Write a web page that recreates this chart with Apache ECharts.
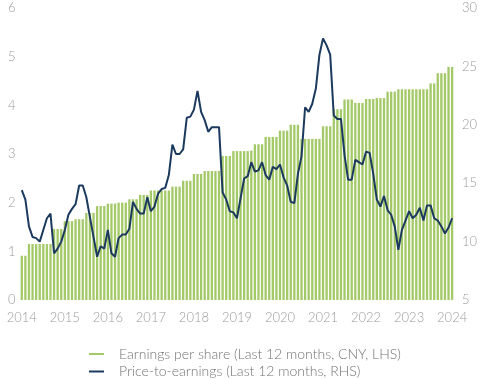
<!DOCTYPE html>
<html>
<head>
<meta charset="utf-8">
<script src="https://cdn.jsdelivr.net/npm/echarts@6/dist/echarts.min.js"></script>
<style>
html,body{margin:0;padding:0;background:#fff;}
#chart{width:480px;height:379px;}
</style>
</head>
<body>
<div id="chart"></div>
<script>
// Year tick labels (one label every 12 monthly categories)
const years = ['2014','2015','2016','2017','2018','2019','2020','2021','2022','2023','2024'];
const months = ['01','02','03','04','05','06','07','08','09','10','11','12'];

// EPS, last 12 months, CNY (left axis) - monthly, Jan 2014 .. Jan 2024
const eps = [
  0.91,0.91,
  1.15,1.15,1.15,1.15,1.15,1.15,1.15,
  1.46,1.46,1.46,
  1.62,1.62,1.62,
  1.66,1.66,1.66,
  1.79,1.79,1.79,
  1.93,1.93,1.93,
  1.98,1.98,1.98,
  2.00,2.00,2.00,
  2.07,2.07,2.07,
  2.16,2.16,2.16,
  2.25,2.25,2.25,2.25,2.25,2.25,
  2.33,2.33,2.33,
  2.45,2.45,2.45,
  2.59,2.59,2.59,
  2.65,2.65,2.65,2.65,2.65,
  2.96,2.96,2.96,
  3.06,3.06,3.06,3.06,3.06,3.07,
  3.20,3.20,3.20,
  3.35,3.35,3.35,3.35,
  3.48,3.48,3.48,
  3.60,3.60,3.60,
  3.31,3.31,3.31,3.31,3.31,3.31,
  3.57,3.57,3.57,
  3.92,3.92,3.92,
  4.12,4.12,4.12,
  4.05,4.05,4.05,
  4.13,4.13,4.13,
  4.15,4.15,4.15,
  4.28,4.28,4.28,
  4.33,4.33,4.33,4.33,4.33,4.33,4.33,4.33,4.33,
  4.45,4.45,
  4.66,4.66,4.66,
  4.79,4.79
];

// Price-to-earnings, last 12 months (right axis)
const pe = [
  14.4,13.6,11.3,10.4,10.3,10.0,11.0,12.0,12.4,9.0,9.4,10.0,
  11.0,12.3,12.8,13.2,14.8,14.8,13.8,12.1,10.4,8.7,9.6,9.4,
  11.0,9.0,8.7,10.3,10.6,10.6,11.1,13.4,12.8,12.4,12.4,13.8,
  12.6,13.0,14.1,14.5,14.6,15.7,18.3,17.5,17.5,17.9,20.6,20.7,
  21.3,22.9,21.1,20.4,19.4,19.8,19.8,19.8,14.2,13.6,12.6,12.5,
  12.0,13.7,15.4,15.6,16.8,16.0,16.1,16.8,15.7,15.3,16.4,16.2,
  16.6,15.5,14.8,13.4,13.3,15.8,17.3,21.5,21.1,21.8,23.1,26.0,
  27.4,26.8,26.0,20.8,20.5,20.5,17.4,15.3,15.3,17.0,16.8,16.6,
  17.7,17.6,15.8,13.6,13.0,13.9,12.7,12.3,11.3,9.3,11.0,11.8,
  12.6,12.0,12.3,12.9,11.8,13.1,13.1,12.0,11.8,11.3,10.7,11.2,
  12.0
];

const seriesNames = [
  'Earnings per share (Last 12 months, CNY, LHS)',
  'Price-to-earnings (Last 12 months, RHS)'
];

// monthly categories Jan 2014 .. Jan 2024
const categories = [];
years.forEach(function (y, k) {
  months.forEach(function (m) {
    if (k < years.length - 1 || m === '01') categories.push(y + '-' + m);
  });
});

const FONT = 'Lato';
const axisLabelColor = '#9b9b9b';

const chart = echarts.init(document.getElementById('chart'), null, {renderer: 'canvas'});
chart.setOption({
  animation: false,
  textStyle: {fontFamily: FONT},
  grid: {left: 20, right: 26, top: 8, bottom: 79, containLabel: false},
  legend: {
    orient: 'vertical',
    left: 89,
    top: 347,
    padding: 0,
    itemGap: 3.5,
    itemWidth: 15,
    itemHeight: 2,
    textStyle: {color: '#737373', fontSize: 14, lineHeight: 14, fontFamily: FONT, fontWeight: 300, padding: [0,0,0,10]},
    data: [
      {name: seriesNames[0], icon: 'rect'},
      {name: seriesNames[1], icon: 'rect'}
    ]
  },
  xAxis: {
    type: 'category',
    data: categories,
    boundaryGap: true,
    axisLine: {show: false},
    axisTick: {show: false},
    axisLabel: {
      interval: 11,
      margin: 11,
      color: axisLabelColor,
      fontSize: 13,
      fontFamily: FONT,
      fontWeight: 300,
      formatter: function (v) { return v.slice(0, 4); }
    },
    splitLine: {show: false}
  },
  yAxis: [
    {
      type: 'value', min: 0, max: 6, interval: 1, position: 'left',
      axisLine: {show: false}, axisTick: {show: false}, splitLine: {show: false},
      axisLabel: {color: axisLabelColor, fontSize: 13, fontFamily: FONT, fontWeight: 300, align: 'left', margin: 12}
    },
    {
      type: 'value', min: 5, max: 30, interval: 5, position: 'right',
      axisLine: {show: false}, axisTick: {show: false}, splitLine: {show: false},
      axisLabel: {color: axisLabelColor, fontSize: 13, fontFamily: FONT, fontWeight: 300, align: 'left', margin: 8}
    }
  ],
  series: [
    {
      name: seriesNames[0],
      type: 'bar',
      yAxisIndex: 0,
      data: eps,
      barCategoryGap: '35%',
      itemStyle: {color: '#a4c968'}
    },
    {
      name: seriesNames[1],
      type: 'line',
      yAxisIndex: 1,
      data: pe,
      symbol: 'none',
      lineStyle: {color: '#1c3a5e', width: 2},
      itemStyle: {color: '#1c3a5e'},
      z: 5
    }
  ]
});
</script>
</body>
</html>
